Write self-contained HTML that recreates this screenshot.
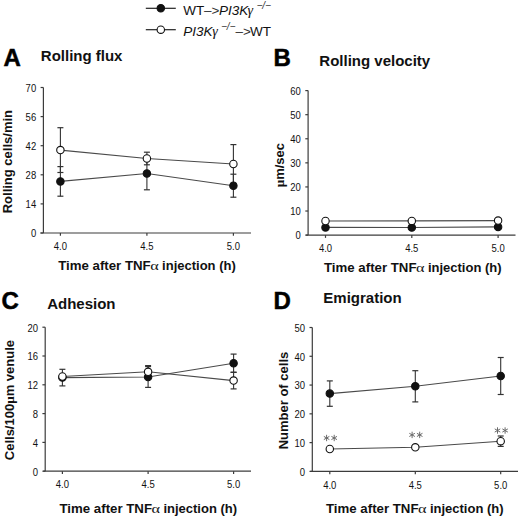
<!DOCTYPE html>
<html><head><meta charset="utf-8"><style>
html,body{margin:0;padding:0;background:#fff;width:520px;height:517px;overflow:hidden}
svg{display:block;font-family:"Liberation Sans",sans-serif}
</style></head><body>
<svg width="520" height="517" viewBox="0 0 520 517">
<line x1="43.4" y1="87.5" x2="43.4" y2="233" stroke="#3c3c3c" stroke-width="1.2"/>
<line x1="40.4" y1="233" x2="251" y2="233" stroke="#3c3c3c" stroke-width="1.2"/>
<line x1="40.6" y1="233" x2="43.4" y2="233" stroke="#3c3c3c" stroke-width="1.2"/>
<text transform="translate(36.2,237.3) scale(0.95,1)" font-size="10" text-anchor="end" fill="#111">0</text>
<line x1="40.6" y1="203.9" x2="43.4" y2="203.9" stroke="#3c3c3c" stroke-width="1.2"/>
<text transform="translate(36.2,208.2) scale(0.95,1)" font-size="10" text-anchor="end" fill="#111">14</text>
<line x1="40.6" y1="174.8" x2="43.4" y2="174.8" stroke="#3c3c3c" stroke-width="1.2"/>
<text transform="translate(36.2,179.1) scale(0.95,1)" font-size="10" text-anchor="end" fill="#111">28</text>
<line x1="40.6" y1="145.7" x2="43.4" y2="145.7" stroke="#3c3c3c" stroke-width="1.2"/>
<text transform="translate(36.2,150) scale(0.95,1)" font-size="10" text-anchor="end" fill="#111">42</text>
<line x1="40.6" y1="116.6" x2="43.4" y2="116.6" stroke="#3c3c3c" stroke-width="1.2"/>
<text transform="translate(36.2,120.9) scale(0.95,1)" font-size="10" text-anchor="end" fill="#111">56</text>
<line x1="40.6" y1="87.5" x2="43.4" y2="87.5" stroke="#3c3c3c" stroke-width="1.2"/>
<text transform="translate(36.2,91.8) scale(0.95,1)" font-size="10" text-anchor="end" fill="#111">70</text>
<line x1="60.4" y1="233" x2="60.4" y2="235.8" stroke="#3c3c3c" stroke-width="1.2"/>
<text transform="translate(60.4,250.1) scale(0.95,1)" font-size="10" text-anchor="middle" fill="#111">4.0</text>
<line x1="146.9" y1="233" x2="146.9" y2="235.8" stroke="#3c3c3c" stroke-width="1.2"/>
<text transform="translate(146.9,250.1) scale(0.95,1)" font-size="10" text-anchor="middle" fill="#111">4.5</text>
<line x1="233.4" y1="233" x2="233.4" y2="235.8" stroke="#3c3c3c" stroke-width="1.2"/>
<text transform="translate(233.4,250.1) scale(0.95,1)" font-size="10" text-anchor="middle" fill="#111">5.0</text>
<text x="58.2" y="270.4" font-size="13.25" font-weight="bold" fill="#111">Time after TNF</text>
<text transform="translate(150.3,270.4) scale(1.25,1)" font-family="Liberation Serif" font-size="13" fill="#111">α</text>
<text x="162.1" y="270.4" font-size="13" font-weight="bold" fill="#111">injection (h)</text>
<text transform="translate(12.4,213.3) rotate(-90)" x="0" y="0" font-size="13" font-weight="bold" fill="#111">Rolling cells/min</text>
<text x="3.5" y="66.3" font-size="24" text-anchor="start" font-weight="bold" fill="#000" stroke="#000" stroke-width="0.5">A</text>
<text x="40.8" y="60.8" font-size="15" text-anchor="start" font-weight="bold" fill="#111" >Rolling flux</text>
<polyline points="60.4,181.4 146.9,173.5 233.4,185.7" fill="none" stroke="#4a4a4a" stroke-width="1.1"/>
<polyline points="60.4,150.1 146.9,158.5 233.4,164" fill="none" stroke="#4a4a4a" stroke-width="1.1"/>
<line x1="60.4" y1="166.6" x2="60.4" y2="196.2" stroke="#333" stroke-width="1.1"/>
<line x1="57.4" y1="166.6" x2="63.4" y2="166.6" stroke="#333" stroke-width="1.2"/>
<line x1="57.4" y1="196.2" x2="63.4" y2="196.2" stroke="#333" stroke-width="1.2"/>
<line x1="146.9" y1="157.2" x2="146.9" y2="189.8" stroke="#333" stroke-width="1.1"/>
<line x1="143.9" y1="157.2" x2="149.9" y2="157.2" stroke="#333" stroke-width="1.2"/>
<line x1="143.9" y1="189.8" x2="149.9" y2="189.8" stroke="#333" stroke-width="1.2"/>
<line x1="233.4" y1="174.2" x2="233.4" y2="197.2" stroke="#333" stroke-width="1.1"/>
<line x1="230.4" y1="174.2" x2="236.4" y2="174.2" stroke="#333" stroke-width="1.2"/>
<line x1="230.4" y1="197.2" x2="236.4" y2="197.2" stroke="#333" stroke-width="1.2"/>
<line x1="60.4" y1="127.7" x2="60.4" y2="172.5" stroke="#333" stroke-width="1.1"/>
<line x1="57.4" y1="127.7" x2="63.4" y2="127.7" stroke="#333" stroke-width="1.2"/>
<line x1="57.4" y1="172.5" x2="63.4" y2="172.5" stroke="#333" stroke-width="1.2"/>
<line x1="146.9" y1="152.2" x2="146.9" y2="164.8" stroke="#333" stroke-width="1.1"/>
<line x1="143.9" y1="152.2" x2="149.9" y2="152.2" stroke="#333" stroke-width="1.2"/>
<line x1="143.9" y1="164.8" x2="149.9" y2="164.8" stroke="#333" stroke-width="1.2"/>
<line x1="233.4" y1="144.6" x2="233.4" y2="183.4" stroke="#333" stroke-width="1.1"/>
<line x1="230.4" y1="144.6" x2="236.4" y2="144.6" stroke="#333" stroke-width="1.2"/>
<line x1="230.4" y1="183.4" x2="236.4" y2="183.4" stroke="#333" stroke-width="1.2"/>
<circle cx="60.4" cy="181.4" r="3.7" fill="#111" stroke="#111" stroke-width="1.1"/>
<circle cx="146.9" cy="173.5" r="3.7" fill="#111" stroke="#111" stroke-width="1.1"/>
<circle cx="233.4" cy="185.7" r="3.7" fill="#111" stroke="#111" stroke-width="1.1"/>
<circle cx="60.4" cy="150.1" r="3.7" fill="#fff" stroke="#111" stroke-width="1.1"/>
<circle cx="146.9" cy="158.5" r="3.7" fill="#fff" stroke="#111" stroke-width="1.1"/>
<circle cx="233.4" cy="164" r="3.7" fill="#fff" stroke="#111" stroke-width="1.1"/>
<line x1="308.1" y1="90.6" x2="308.1" y2="235.1" stroke="#3c3c3c" stroke-width="1.2"/>
<line x1="305.8" y1="235.1" x2="515.5" y2="235.1" stroke="#3c3c3c" stroke-width="1.2"/>
<line x1="305.3" y1="235.1" x2="308.1" y2="235.1" stroke="#3c3c3c" stroke-width="1.2"/>
<text transform="translate(300.9,239.4) scale(0.95,1)" font-size="10" text-anchor="end" fill="#111">0</text>
<line x1="305.3" y1="211.02" x2="308.1" y2="211.02" stroke="#3c3c3c" stroke-width="1.2"/>
<text transform="translate(300.9,215.32) scale(0.95,1)" font-size="10" text-anchor="end" fill="#111">10</text>
<line x1="305.3" y1="186.93" x2="308.1" y2="186.93" stroke="#3c3c3c" stroke-width="1.2"/>
<text transform="translate(300.9,191.23) scale(0.95,1)" font-size="10" text-anchor="end" fill="#111">20</text>
<line x1="305.3" y1="162.85" x2="308.1" y2="162.85" stroke="#3c3c3c" stroke-width="1.2"/>
<text transform="translate(300.9,167.15) scale(0.95,1)" font-size="10" text-anchor="end" fill="#111">30</text>
<line x1="305.3" y1="138.77" x2="308.1" y2="138.77" stroke="#3c3c3c" stroke-width="1.2"/>
<text transform="translate(300.9,143.07) scale(0.95,1)" font-size="10" text-anchor="end" fill="#111">40</text>
<line x1="305.3" y1="114.68" x2="308.1" y2="114.68" stroke="#3c3c3c" stroke-width="1.2"/>
<text transform="translate(300.9,118.98) scale(0.95,1)" font-size="10" text-anchor="end" fill="#111">50</text>
<line x1="305.3" y1="90.6" x2="308.1" y2="90.6" stroke="#3c3c3c" stroke-width="1.2"/>
<text transform="translate(300.9,94.9) scale(0.95,1)" font-size="10" text-anchor="end" fill="#111">60</text>
<line x1="325.5" y1="235.1" x2="325.5" y2="237.9" stroke="#3c3c3c" stroke-width="1.2"/>
<text transform="translate(325.5,252.2) scale(0.95,1)" font-size="10" text-anchor="middle" fill="#111">4.0</text>
<line x1="411.8" y1="235.1" x2="411.8" y2="237.9" stroke="#3c3c3c" stroke-width="1.2"/>
<text transform="translate(411.8,252.2) scale(0.95,1)" font-size="10" text-anchor="middle" fill="#111">4.5</text>
<line x1="498.1" y1="235.1" x2="498.1" y2="237.9" stroke="#3c3c3c" stroke-width="1.2"/>
<text transform="translate(498.1,252.2) scale(0.95,1)" font-size="10" text-anchor="middle" fill="#111">5.0</text>
<text x="324" y="271.6" font-size="13.25" font-weight="bold" fill="#111">Time after TNF</text>
<text transform="translate(416.1,271.6) scale(1.25,1)" font-family="Liberation Serif" font-size="13" fill="#111">α</text>
<text x="427.9" y="271.6" font-size="13" font-weight="bold" fill="#111">injection (h)</text>
<text transform="translate(284.3,187.3) rotate(-90)" x="0" y="0" font-size="13" font-weight="bold" fill="#111"><tspan font-family="Liberation Serif">µ</tspan>m/sec</text>
<text x="273.5" y="66.3" font-size="24" text-anchor="start" font-weight="bold" fill="#000" stroke="#000" stroke-width="0.5">B</text>
<text x="319.3" y="66.1" font-size="15" text-anchor="start" font-weight="bold" fill="#111" >Rolling velocity</text>
<polyline points="325.5,227.4 411.8,227.5 498.1,226.9" fill="none" stroke="#4a4a4a" stroke-width="1.1"/>
<polyline points="325.5,221 411.8,220.9 498.1,220.6" fill="none" stroke="#4a4a4a" stroke-width="1.1"/>
<circle cx="325.5" cy="227.4" r="3.7" fill="#111" stroke="#111" stroke-width="1.1"/>
<circle cx="411.8" cy="227.5" r="3.7" fill="#111" stroke="#111" stroke-width="1.1"/>
<circle cx="498.1" cy="226.9" r="3.7" fill="#111" stroke="#111" stroke-width="1.1"/>
<circle cx="325.5" cy="221" r="3.7" fill="#fff" stroke="#111" stroke-width="1.1"/>
<circle cx="411.8" cy="220.9" r="3.7" fill="#fff" stroke="#111" stroke-width="1.1"/>
<circle cx="498.1" cy="220.6" r="3.7" fill="#fff" stroke="#111" stroke-width="1.1"/>
<line x1="45.2" y1="327.2" x2="45.2" y2="471.2" stroke="#3c3c3c" stroke-width="1.2"/>
<line x1="43.2" y1="471.2" x2="251" y2="471.2" stroke="#3c3c3c" stroke-width="1.2"/>
<line x1="42.4" y1="471.2" x2="45.2" y2="471.2" stroke="#3c3c3c" stroke-width="1.2"/>
<text transform="translate(38,475.5) scale(0.95,1)" font-size="10" text-anchor="end" fill="#111">0</text>
<line x1="42.4" y1="442.4" x2="45.2" y2="442.4" stroke="#3c3c3c" stroke-width="1.2"/>
<text transform="translate(38,446.7) scale(0.95,1)" font-size="10" text-anchor="end" fill="#111">4</text>
<line x1="42.4" y1="413.6" x2="45.2" y2="413.6" stroke="#3c3c3c" stroke-width="1.2"/>
<text transform="translate(38,417.9) scale(0.95,1)" font-size="10" text-anchor="end" fill="#111">8</text>
<line x1="42.4" y1="384.8" x2="45.2" y2="384.8" stroke="#3c3c3c" stroke-width="1.2"/>
<text transform="translate(38,389.1) scale(0.95,1)" font-size="10" text-anchor="end" fill="#111">12</text>
<line x1="42.4" y1="356" x2="45.2" y2="356" stroke="#3c3c3c" stroke-width="1.2"/>
<text transform="translate(38,360.3) scale(0.95,1)" font-size="10" text-anchor="end" fill="#111">16</text>
<line x1="42.4" y1="327.2" x2="45.2" y2="327.2" stroke="#3c3c3c" stroke-width="1.2"/>
<text transform="translate(38,331.5) scale(0.95,1)" font-size="10" text-anchor="end" fill="#111">20</text>
<line x1="62.4" y1="471.2" x2="62.4" y2="474" stroke="#3c3c3c" stroke-width="1.2"/>
<text transform="translate(62.4,488.3) scale(0.95,1)" font-size="10" text-anchor="middle" fill="#111">4.0</text>
<line x1="148.1" y1="471.2" x2="148.1" y2="474" stroke="#3c3c3c" stroke-width="1.2"/>
<text transform="translate(148.1,488.3) scale(0.95,1)" font-size="10" text-anchor="middle" fill="#111">4.5</text>
<line x1="233.6" y1="471.2" x2="233.6" y2="474" stroke="#3c3c3c" stroke-width="1.2"/>
<text transform="translate(233.6,488.3) scale(0.95,1)" font-size="10" text-anchor="middle" fill="#111">5.0</text>
<text x="59.5" y="512.7" font-size="13.25" font-weight="bold" fill="#111">Time after TNF</text>
<text transform="translate(151.6,512.7) scale(1.25,1)" font-family="Liberation Serif" font-size="13" fill="#111">α</text>
<text x="163.4" y="512.7" font-size="13" font-weight="bold" fill="#111">injection (h)</text>
<text transform="translate(14.4,460.2) rotate(-90)" x="0" y="0" font-size="13" font-weight="bold" fill="#111">Cells/100<tspan font-family="Liberation Serif">µ</tspan>m venule</text>
<text x="1.5" y="309.3" font-size="24" text-anchor="start" font-weight="bold" fill="#000" stroke="#000" stroke-width="0.5">C</text>
<text x="47.2" y="309.2" font-size="15" text-anchor="start" font-weight="bold" fill="#111" >Adhesion</text>
<polyline points="62.4,377.6 148.1,377 233.6,363.2" fill="none" stroke="#4a4a4a" stroke-width="1.1"/>
<polyline points="62.4,376.5 148.1,371.8 233.6,380.6" fill="none" stroke="#4a4a4a" stroke-width="1.1"/>
<line x1="62.4" y1="369.3" x2="62.4" y2="385.9" stroke="#333" stroke-width="1.1"/>
<line x1="59.4" y1="369.3" x2="65.4" y2="369.3" stroke="#333" stroke-width="1.2"/>
<line x1="59.4" y1="385.9" x2="65.4" y2="385.9" stroke="#333" stroke-width="1.2"/>
<line x1="148.1" y1="366.6" x2="148.1" y2="387.4" stroke="#333" stroke-width="1.1"/>
<line x1="145.1" y1="366.6" x2="151.1" y2="366.6" stroke="#333" stroke-width="1.2"/>
<line x1="145.1" y1="387.4" x2="151.1" y2="387.4" stroke="#333" stroke-width="1.2"/>
<line x1="233.6" y1="354.1" x2="233.6" y2="372.3" stroke="#333" stroke-width="1.1"/>
<line x1="230.6" y1="354.1" x2="236.6" y2="354.1" stroke="#333" stroke-width="1.2"/>
<line x1="230.6" y1="372.3" x2="236.6" y2="372.3" stroke="#333" stroke-width="1.2"/>
<line x1="148.1" y1="365.6" x2="148.1" y2="378" stroke="#333" stroke-width="1.1"/>
<line x1="145.1" y1="365.6" x2="151.1" y2="365.6" stroke="#333" stroke-width="1.2"/>
<line x1="145.1" y1="378" x2="151.1" y2="378" stroke="#333" stroke-width="1.2"/>
<line x1="233.6" y1="372.3" x2="233.6" y2="388.9" stroke="#333" stroke-width="1.1"/>
<line x1="230.6" y1="372.3" x2="236.6" y2="372.3" stroke="#333" stroke-width="1.2"/>
<line x1="230.6" y1="388.9" x2="236.6" y2="388.9" stroke="#333" stroke-width="1.2"/>
<circle cx="62.4" cy="377.6" r="3.7" fill="#111" stroke="#111" stroke-width="1.1"/>
<circle cx="148.1" cy="377" r="3.7" fill="#111" stroke="#111" stroke-width="1.1"/>
<circle cx="233.6" cy="363.2" r="3.7" fill="#111" stroke="#111" stroke-width="1.1"/>
<circle cx="62.4" cy="376.5" r="3.7" fill="#fff" stroke="#111" stroke-width="1.1"/>
<circle cx="148.1" cy="371.8" r="3.7" fill="#fff" stroke="#111" stroke-width="1.1"/>
<circle cx="233.6" cy="380.6" r="3.7" fill="#fff" stroke="#111" stroke-width="1.1"/>
<line x1="312.3" y1="327.5" x2="312.3" y2="471.4" stroke="#3c3c3c" stroke-width="1.2"/>
<line x1="310.3" y1="471.4" x2="518" y2="471.4" stroke="#3c3c3c" stroke-width="1.2"/>
<line x1="309.5" y1="471.4" x2="312.3" y2="471.4" stroke="#3c3c3c" stroke-width="1.2"/>
<text transform="translate(305.1,475.7) scale(0.95,1)" font-size="10" text-anchor="end" fill="#111">0</text>
<line x1="309.5" y1="442.62" x2="312.3" y2="442.62" stroke="#3c3c3c" stroke-width="1.2"/>
<text transform="translate(305.1,446.92) scale(0.95,1)" font-size="10" text-anchor="end" fill="#111">10</text>
<line x1="309.5" y1="413.84" x2="312.3" y2="413.84" stroke="#3c3c3c" stroke-width="1.2"/>
<text transform="translate(305.1,418.14) scale(0.95,1)" font-size="10" text-anchor="end" fill="#111">20</text>
<line x1="309.5" y1="385.06" x2="312.3" y2="385.06" stroke="#3c3c3c" stroke-width="1.2"/>
<text transform="translate(305.1,389.36) scale(0.95,1)" font-size="10" text-anchor="end" fill="#111">30</text>
<line x1="309.5" y1="356.28" x2="312.3" y2="356.28" stroke="#3c3c3c" stroke-width="1.2"/>
<text transform="translate(305.1,360.58) scale(0.95,1)" font-size="10" text-anchor="end" fill="#111">40</text>
<line x1="309.5" y1="327.5" x2="312.3" y2="327.5" stroke="#3c3c3c" stroke-width="1.2"/>
<text transform="translate(305.1,331.8) scale(0.95,1)" font-size="10" text-anchor="end" fill="#111">50</text>
<line x1="329.8" y1="471.4" x2="329.8" y2="474.2" stroke="#3c3c3c" stroke-width="1.2"/>
<text transform="translate(329.8,488.5) scale(0.95,1)" font-size="10" text-anchor="middle" fill="#111">4.0</text>
<line x1="415.3" y1="471.4" x2="415.3" y2="474.2" stroke="#3c3c3c" stroke-width="1.2"/>
<text transform="translate(415.3,488.5) scale(0.95,1)" font-size="10" text-anchor="middle" fill="#111">4.5</text>
<line x1="500.7" y1="471.4" x2="500.7" y2="474.2" stroke="#3c3c3c" stroke-width="1.2"/>
<text transform="translate(500.7,488.5) scale(0.95,1)" font-size="10" text-anchor="middle" fill="#111">5.0</text>
<text x="326" y="512.9" font-size="13.25" font-weight="bold" fill="#111">Time after TNF</text>
<text transform="translate(418.1,512.9) scale(1.25,1)" font-family="Liberation Serif" font-size="13" fill="#111">α</text>
<text x="429.9" y="512.9" font-size="13" font-weight="bold" fill="#111">injection (h)</text>
<text transform="translate(288.3,449.3) rotate(-90)" x="0" y="0" font-size="13" font-weight="bold" fill="#111">Number of cells</text>
<text x="273.5" y="309.2" font-size="24" text-anchor="start" font-weight="bold" fill="#000" stroke="#000" stroke-width="0.5">D</text>
<text x="323.3" y="303.3" font-size="15" text-anchor="start" font-weight="bold" fill="#111" >Emigration</text>
<polyline points="329.8,393.6 415.3,386.3 500.7,376" fill="none" stroke="#4a4a4a" stroke-width="1.1"/>
<polyline points="329.8,449 415.3,447.3 500.7,441.2" fill="none" stroke="#4a4a4a" stroke-width="1.1"/>
<line x1="329.8" y1="380.9" x2="329.8" y2="406.3" stroke="#333" stroke-width="1.1"/>
<line x1="326.8" y1="380.9" x2="332.8" y2="380.9" stroke="#333" stroke-width="1.2"/>
<line x1="326.8" y1="406.3" x2="332.8" y2="406.3" stroke="#333" stroke-width="1.2"/>
<line x1="415.3" y1="370.7" x2="415.3" y2="401.9" stroke="#333" stroke-width="1.1"/>
<line x1="412.3" y1="370.7" x2="418.3" y2="370.7" stroke="#333" stroke-width="1.2"/>
<line x1="412.3" y1="401.9" x2="418.3" y2="401.9" stroke="#333" stroke-width="1.2"/>
<line x1="500.7" y1="357.5" x2="500.7" y2="394.5" stroke="#333" stroke-width="1.1"/>
<line x1="497.7" y1="357.5" x2="503.7" y2="357.5" stroke="#333" stroke-width="1.2"/>
<line x1="497.7" y1="394.5" x2="503.7" y2="394.5" stroke="#333" stroke-width="1.2"/>
<line x1="500.7" y1="436" x2="500.7" y2="446.4" stroke="#333" stroke-width="1.1"/>
<line x1="497.7" y1="436" x2="503.7" y2="436" stroke="#333" stroke-width="1.2"/>
<line x1="497.7" y1="446.4" x2="503.7" y2="446.4" stroke="#333" stroke-width="1.2"/>
<circle cx="329.8" cy="393.6" r="3.7" fill="#111" stroke="#111" stroke-width="1.1"/>
<circle cx="415.3" cy="386.3" r="3.7" fill="#111" stroke="#111" stroke-width="1.1"/>
<circle cx="500.7" cy="376" r="3.7" fill="#111" stroke="#111" stroke-width="1.1"/>
<circle cx="329.8" cy="449" r="3.7" fill="#fff" stroke="#111" stroke-width="1.1"/>
<circle cx="415.3" cy="447.3" r="3.7" fill="#fff" stroke="#111" stroke-width="1.1"/>
<circle cx="500.7" cy="441.2" r="3.7" fill="#fff" stroke="#111" stroke-width="1.1"/>
<line x1="326.6" y1="441.2" x2="326.6" y2="434.8" stroke="#6a6a6a" stroke-width="1"/>
<line x1="323.83" y1="439.6" x2="329.37" y2="436.4" stroke="#6a6a6a" stroke-width="1"/>
<line x1="329.37" y1="439.6" x2="323.83" y2="436.4" stroke="#6a6a6a" stroke-width="1"/>
<line x1="334.2" y1="441.2" x2="334.2" y2="434.8" stroke="#6a6a6a" stroke-width="1"/>
<line x1="331.43" y1="439.6" x2="336.97" y2="436.4" stroke="#6a6a6a" stroke-width="1"/>
<line x1="336.97" y1="439.6" x2="331.43" y2="436.4" stroke="#6a6a6a" stroke-width="1"/>
<line x1="412.1" y1="438.1" x2="412.1" y2="431.7" stroke="#6a6a6a" stroke-width="1"/>
<line x1="409.33" y1="436.5" x2="414.87" y2="433.3" stroke="#6a6a6a" stroke-width="1"/>
<line x1="414.87" y1="436.5" x2="409.33" y2="433.3" stroke="#6a6a6a" stroke-width="1"/>
<line x1="419.7" y1="438.1" x2="419.7" y2="431.7" stroke="#6a6a6a" stroke-width="1"/>
<line x1="416.93" y1="436.5" x2="422.47" y2="433.3" stroke="#6a6a6a" stroke-width="1"/>
<line x1="422.47" y1="436.5" x2="416.93" y2="433.3" stroke="#6a6a6a" stroke-width="1"/>
<line x1="497.5" y1="433.7" x2="497.5" y2="427.3" stroke="#6a6a6a" stroke-width="1"/>
<line x1="494.73" y1="432.1" x2="500.27" y2="428.9" stroke="#6a6a6a" stroke-width="1"/>
<line x1="500.27" y1="432.1" x2="494.73" y2="428.9" stroke="#6a6a6a" stroke-width="1"/>
<line x1="505.1" y1="433.7" x2="505.1" y2="427.3" stroke="#6a6a6a" stroke-width="1"/>
<line x1="502.33" y1="432.1" x2="507.87" y2="428.9" stroke="#6a6a6a" stroke-width="1"/>
<line x1="507.87" y1="432.1" x2="502.33" y2="428.9" stroke="#6a6a6a" stroke-width="1"/>
<line x1="145.8" y1="8.3" x2="175.8" y2="8.3" stroke="#222" stroke-width="1.2"/>
<circle cx="160.8" cy="8.3" r="3.7" fill="#111" stroke="#111" stroke-width="1.1"/>
<line x1="145.8" y1="29.7" x2="175.8" y2="29.7" stroke="#222" stroke-width="1.2"/>
<circle cx="160.8" cy="29.7" r="3.7" fill="#fff" stroke="#111" stroke-width="1.1"/>
<text x="183.3" y="15" font-size="13.5" fill="#111">WT</text>
<text x="204" y="15" font-size="13.5" fill="#333">–&gt;</text>
<text x="219" y="15" font-size="13.5" fill="#111" font-style="italic">PI3K</text>
<text x="247.6" y="15" font-size="14" fill="#111" font-style="italic" font-family="Liberation Serif">γ</text>
<text x="256.5" y="8.8" font-size="10" fill="#333" font-style="italic">−/−</text>
<text x="183.3" y="36.3" font-size="13.5" fill="#111" font-style="italic">PI3K</text>
<text x="212.3" y="36.3" font-size="14" fill="#111" font-style="italic" font-family="Liberation Serif">γ</text>
<text x="221" y="30.1" font-size="10" fill="#333" font-style="italic">−/−</text>
<text x="235.5" y="36.3" font-size="13.5" fill="#333">–&gt;</text>
<text x="250" y="36.3" font-size="13.5" fill="#111">WT</text>
</svg>
</body></html>
